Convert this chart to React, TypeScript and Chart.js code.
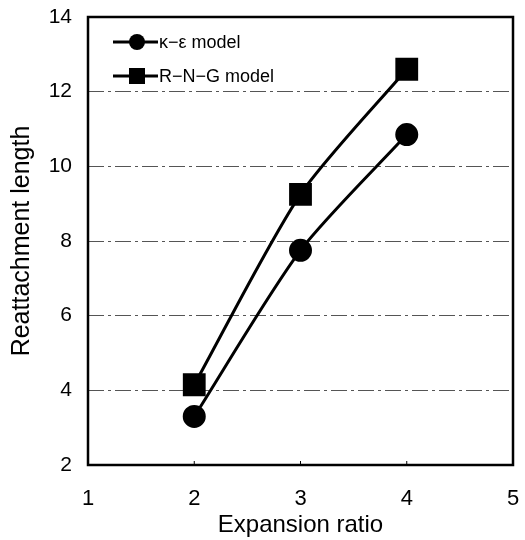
import React, { useEffect, useRef } from "react";
import { Chart, registerables } from "chart.js";
Chart.register(...registerables);

const ratios = [2, 3, 4];
const keValues = [3.3, 7.75, 10.85];
const rngValues = [4.15, 9.25, 12.6];
const seriesLabels = ["κ−ε model", "R−N−G model"];
const xTicks = [1, 2, 3, 4, 5];
const yTicks = [2, 4, 6, 8, 10, 12, 14];

const FONT = "'Liberation Sans', Arial, sans-serif";

const borderPlugin = {
  id: "frameAndLegend",
  beforeDatasetsDraw(chart: any) {
    const { ctx, chartArea: a } = chart;
    ctx.save();
    ctx.strokeStyle = "#000";
    ctx.lineWidth = 2.5;
    ctx.strokeRect(a.left, a.top, a.right - a.left, a.bottom - a.top);
    const xs = chart.scales.x;
    ctx.lineWidth = 1;
    for (const v of [2, 3, 4]) {
      const px = xs.getPixelForValue(v);
      ctx.beginPath();
      ctx.moveTo(px, a.bottom);
      ctx.lineTo(px, a.bottom - 4);
      ctx.stroke();
    }
    ctx.restore();
  },
  afterDraw(chart: any) {
    const { ctx, chartArea: a } = chart;
    ctx.save();
    const items = chart.data.datasets;
    items.forEach((ds: any, i: number) => {
      const y = a.top + 25 + i * 34;
      const x0 = a.left + 25;
      ctx.strokeStyle = "#000";
      ctx.lineWidth = 3;
      ctx.beginPath();
      ctx.moveTo(x0, y);
      ctx.lineTo(x0 + 45, y);
      ctx.stroke();
      ctx.fillStyle = "#000";
      const cx = x0 + 24;
      if (ds.pointStyle === "rect") {
        ctx.fillRect(cx - 8, y - 8, 16, 16);
      } else {
        ctx.beginPath();
        ctx.arc(cx, y, 8, 0, Math.PI * 2);
        ctx.fill();
      }
      ctx.font = `18px ${FONT}`;
      ctx.textBaseline = "middle";
      ctx.textAlign = "left";
      ctx.fillText(ds.label, x0 + 46, y + 1);
    });
    ctx.restore();
  },
};

export default function App() {
  const ref = useRef<HTMLCanvasElement>(null);
  useEffect(() => {
    if (!ref.current) return;
    const chart = new Chart(ref.current, {
      type: "line",
      data: {
        datasets: [
          {
            label: seriesLabels[0],
            data: ratios.map((x, i) => ({ x, y: keValues[i] })),
            borderColor: "#000",
            backgroundColor: "#000",
            borderWidth: 3,
            pointStyle: "circle",
            pointRadius: 10,
            tension: 0.25,
          },
          {
            label: seriesLabels[1],
            data: ratios.map((x, i) => ({ x, y: rngValues[i] })),
            borderColor: "#000",
            backgroundColor: "#000",
            borderWidth: 3,
            pointStyle: "rect",
            pointRadius: 14,
            tension: 0.25,
          },
        ],
      },
      options: {
        animation: false,
        responsive: false,
        layout: { autoPadding: false, padding: { top: 17, right: 12, left: 0, bottom: 0 } },
        plugins: { legend: { display: false }, tooltip: { enabled: false } },
        scales: {
          x: {
            type: "linear",
            min: 1,
            max: 5,
            afterBuildTicks: (s: any) => {
              s.ticks = xTicks.map((v) => ({ value: v }));
            },
            afterFit: (s: any) => {
              s.height = 75;
              s.paddingLeft = 0;
              s.paddingRight = 0;
            },
            grid: {
              display: true,
              drawOnChartArea: false,
              drawTicks: true,
              tickLength: 21,
              tickColor: "rgba(0,0,0,0)",
            },
            border: { display: false },
            ticks: { color: "#000", font: { family: FONT, size: 22 }, padding: 0 },
            title: {
              display: true,
              text: "Expansion ratio",
              color: "#000",
              font: { family: FONT, size: 24 },
              padding: { top: 5, bottom: 0 },
            },
          },
          y: {
            type: "linear",
            min: 2,
            max: 14,
            afterBuildTicks: (s: any) => {
              s.ticks = yTicks.map((v) => ({ value: v }));
            },
            afterFit: (s: any) => {
              s.width = 88;
              s.paddingTop = 0;
              s.paddingBottom = 0;
            },
            grid: {
              drawTicks: false,
              color: (c: any) =>
                c.tick && (c.tick.value === 2 || c.tick.value === 14) ? "rgba(0,0,0,0)" : "#555",
              lineWidth: 1,
            },
            border: { display: false, dash: [16, 4, 3, 4] },
            ticks: { color: "#000", font: { family: FONT, size: 21 }, padding: 16 },
            title: {
              display: true,
              text: "Reattachment length",
              color: "#000",
              font: { family: FONT, size: 25 },
              padding: { top: 7, bottom: 0 },
            },
          },
        },
      },
      plugins: [borderPlugin],
    } as any);
    return () => chart.destroy();
  }, []);
  return (
    <div style={{ position: "fixed", left: 0, top: 0, width: 525, height: 540, background: "#fff" }}>
      <canvas ref={ref} width={525} height={540} />
    </div>
  );
}
